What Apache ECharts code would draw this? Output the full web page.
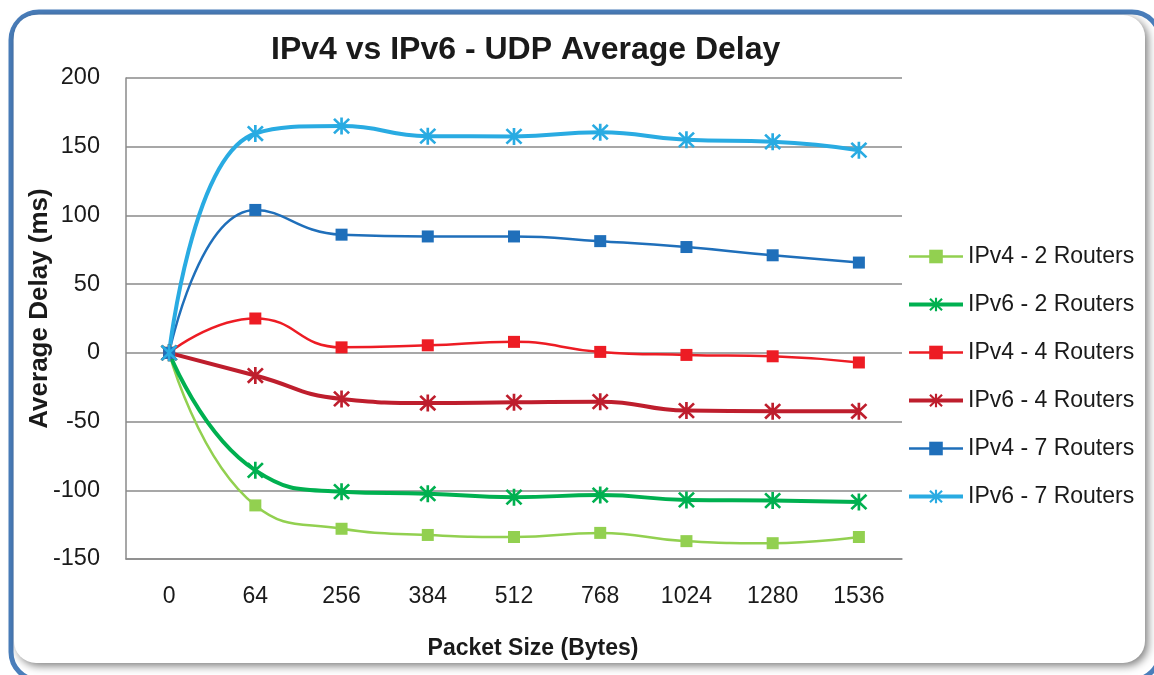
<!DOCTYPE html>
<html>
<head>
<meta charset="utf-8">
<script src="https://cdn.jsdelivr.net/npm/echarts@6/dist/echarts.min.js"></script>
<style>
html,body{margin:0;padding:0;background:#fff;}
#chart{width:1154px;height:675px;}
</style>
</head>
<body>
<div id="chart"></div>
<script>
const categories = ['0', '64', '256', '384', '512', '768', '1024', '1280', '1536'];
const ipv4Routers2 = [0, -111, -128, -132.5, -134, -131, -137, -138.5, -134];
const ipv6Routers2 = [0, -85.5, -101, -102.5, -105, -103.5, -107, -107.5, -108.5];
const ipv4Routers4 = [0, 25, 4, 5.5, 8, 0.7, -1.5, -2.5, -7];
const ipv6Routers4 = [0, -16.5, -33.5, -36.5, -36, -35.5, -42, -42.5, -42.5];
const ipv4Routers7 = [0, 104, 86, 84.7, 84.7, 81.3, 77, 71, 65.7];
const ipv6Routers7 = [0, 159.6, 165, 157.7, 157.5, 160.6, 155, 153.6, 147.5];
const seriesNames = ['IPv4 - 2 Routers', 'IPv6 - 2 Routers', 'IPv4 - 4 Routers', 'IPv6 - 4 Routers', 'IPv4 - 7 Routers', 'IPv6 - 7 Routers'];
const seriesColors = ['#92d050', '#00b050', '#ed1c24', '#be1e2d', '#1f6fba', '#29abe2'];

const STAR = 'path://M8.5,0L11.5,0L11.5,20L8.5,20Z M0.44,2.56L2.56,0.44L19.56,17.44L17.44,19.56Z M17.44,0.44L19.56,2.56L2.56,19.56L0.44,17.44Z';
const FONT = 'Liberation Sans';

function isStarSeries(i) { return i % 2 === 1; }

function mk(i, data) {
  const color = seriesColors[i];
  const star = isStarSeries(i);
  return {
    name: seriesNames[i],
    type: 'line',
    data: data,
    smooth: 0.5,
    symbol: star ? STAR : 'rect',
    symbolSize: star ? 17 : 12,
    showAllSymbol: true,
    lineStyle: { color: color, width: star ? 4 : 2.5 },
    itemStyle: { color: color },
    emphasis: { disabled: true }
  };
}

const legendData = seriesNames.map(function (n, i) {
  return {
    name: n,
    lineStyle: { color: seriesColors[i], width: isStarSeries(i) ? 4 : 2.5 }
  };
});

const chart = echarts.init(document.getElementById('chart'), null, { renderer: 'canvas' });
chart.setOption({
  animation: false,
  backgroundColor: '#ffffff',
  graphic: [
    {
      type: 'rect', z: -10, silent: true,
      shape: { x: 11, y: 12, width: 1149, height: 668, r: 28 },
      style: { fill: '#ffffff', stroke: '#4a7ebb', lineWidth: 5 }
    },
    {
      type: 'rect', z: -9, silent: true,
      shape: { x: 14, y: 15, width: 1131, height: 648, r: 22 },
      style: { fill: '#ffffff', shadowColor: 'rgba(0,0,0,0.5)', shadowBlur: 9, shadowOffsetX: 3, shadowOffsetY: 3 }
    }
  ],
  title: {
    text: 'IPv4 vs IPv6 - UDP Average Delay',
    left: 271,
    top: 34,
    padding: 0,
    textStyle: { fontFamily: FONT, fontSize: 32, fontWeight: 'bold', color: '#1a1a1a' }
  },
  legend: {
    orient: 'vertical',
    left: 902,
    top: 240,
    itemWidth: 54,
    itemHeight: 17,
    itemGap: 25,
    data: legendData,
    textStyle: { fontFamily: FONT, fontSize: 23, color: '#1a1a1a', padding: [0, 0, 0, 0] }
  },
  grid: { left: 126, right: 252, top: 78, bottom: 116, containLabel: false },
  xAxis: {
    type: 'category',
    data: categories,
    boundaryGap: true,
    name: 'Packet Size (Bytes)',
    nameLocation: 'middle',
    nameGap: 78,
    nameMoveOverlap: false,
    nameTextStyle: { fontFamily: FONT, fontSize: 23, fontWeight: 'bold', color: '#1a1a1a', padding: [0, 0, 0, 38] },
    axisLine: { show: true, onZero: false, lineStyle: { color: '#8a8a8a', width: 1.5 } },
    axisTick: { show: false },
    axisLabel: { fontFamily: FONT, fontSize: 23, color: '#1a1a1a', margin: 26 },
    splitLine: { show: false }
  },
  yAxis: {
    type: 'value',
    min: -150,
    max: 200,
    interval: 50,
    name: 'Average Delay (ms)',
    nameLocation: 'middle',
    nameGap: 73,
    nameMoveOverlap: false,
    nameTextStyle: { fontFamily: FONT, fontSize: 26, fontWeight: 'bold', color: '#1a1a1a', padding: [0, 0, 0, 20] },
    axisLine: { show: true, lineStyle: { color: '#8a8a8a', width: 1.5 } },
    axisTick: { show: false },
    axisLabel: { fontFamily: FONT, fontSize: 23.5, color: '#1a1a1a', margin: 26 },
    splitLine: { show: true, lineStyle: { color: '#8a8a8a', width: 1.5 } }
  },
  series: [
    mk(0, ipv4Routers2),
    mk(1, ipv6Routers2),
    mk(2, ipv4Routers4),
    mk(3, ipv6Routers4),
    mk(4, ipv4Routers7),
    mk(5, ipv6Routers7)
  ]
});
</script>
</body>
</html>
